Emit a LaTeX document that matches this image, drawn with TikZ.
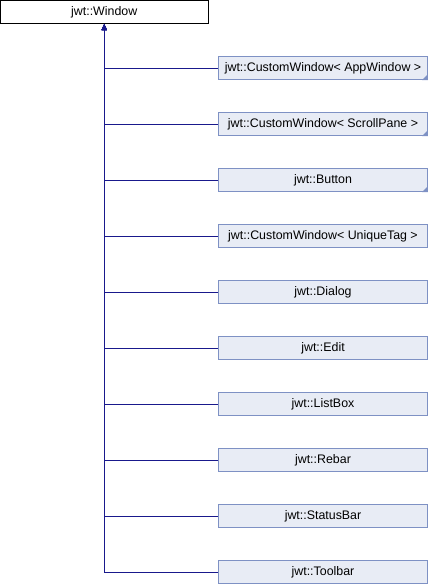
\documentclass[tikz,border=0pt]{standalone}
\usepackage{fontspec}
\setmainfont{Liberation Sans}
\usetikzlibrary{arrows.meta}
\definecolor{boxfill}{RGB}{232,236,245}
\definecolor{boxline}{RGB}{126,145,196}
\definecolor{edge}{RGB}{25,25,140}
\tikzset{
  rootbox/.style={draw=black, fill=white, line width=1pt, minimum width=207.5pt, minimum height=23pt, inner sep=0pt, font=\fontsize{12.4}{14}\selectfont},
  childbox/.style={draw=boxline, fill=boxfill, line width=1pt, minimum width=209pt, minimum height=23pt, inner sep=0pt, font=\fontsize{12.4}{14}\selectfont},
  conn/.style={draw=edge, line width=1pt, -{Triangle[length=6pt,width=5pt]}},
  cornermark/.style={fill=boxline}
}
\begin{document}
\begin{tikzpicture}[x=1pt,y=-1pt]
\useasboundingbox (0,0) rectangle (428,584);
\node[rootbox] (root) at (104.25,12) {jwt::Window};
\foreach \i/\t in {0/{jwt::CustomWindow< AppWindow >},1/{jwt::CustomWindow< ScrollPane >},2/{jwt::Button},3/{jwt::CustomWindow< UniqueTag >},4/{jwt::Dialog},5/{jwt::Edit},6/{jwt::ListBox},7/{jwt::Rebar},8/{jwt::StatusBar},9/{jwt::Toolbar}}{
  \node[childbox] (c\i) at (323,68+56*\i) {\t};
}
\foreach \i in {0,1,2}{
  \fill[cornermark] (c\i.south east) -- ++(-6,0) -- ++(6,-6) -- cycle;
}
\foreach \i in {9,8,7,6,5,4,3,2,1,0}{
  \draw[conn] (c\i.west) -| (root.south);
}
\end{tikzpicture}
\end{document}
